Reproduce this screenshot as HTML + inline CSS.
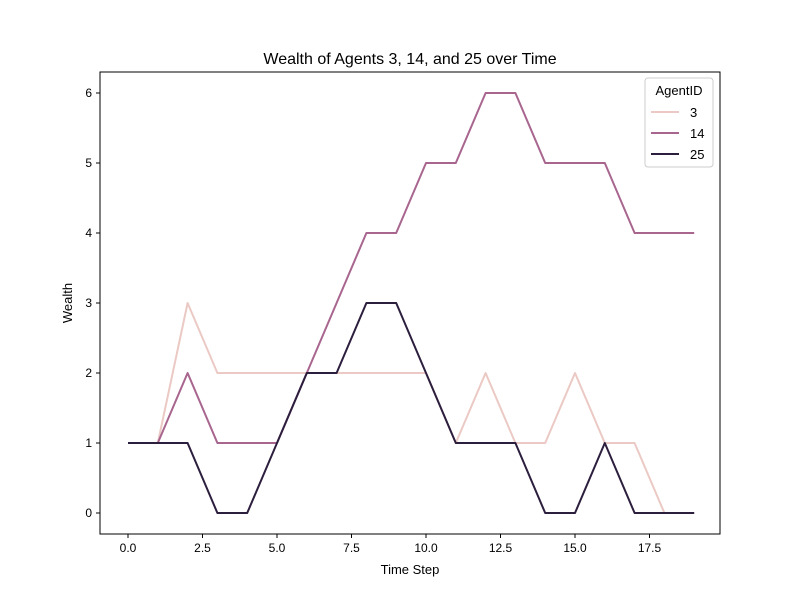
<!DOCTYPE html>
<html><head><meta charset="utf-8"><style>body{margin:0;background:#fff}svg{font-family:"Liberation Sans","DejaVu Sans",sans-serif}</style></head>
<body>
<svg id="chart" width="800" height="600" viewBox="0 0 800 600">
<rect width="800" height="600" fill="#fff"/>
<text x="410" y="64" text-anchor="middle" font-size="16">Wealth of Agents 3, 14, and 25 over Time</text>
<g id="plot"></g>
<text x="410" y="574" text-anchor="middle" font-size="13">Time Step</text>
<text transform="translate(72,303) rotate(-90)" text-anchor="middle" font-size="13">Wealth</text>
</svg>
<script>
const timeSteps=[0,1,2,3,4,5,6,7,8,9,10,11,12,13,14,15,16,17,18,19];
const agent3=[1,1,3,2,2,2,2,2,2,2,2,1,2,1,1,2,1,1,0,0];
const agent14=[1,1,2,1,1,1,2,3,4,4,5,5,6,6,5,5,5,4,4,4];
const agent25=[1,1,1,0,0,1,2,2,3,3,2,1,1,1,0,0,1,0,0,0];
const seriesNames=["3","14","25"];
const xTicks=[0,2.5,5,7.5,10,12.5,15,17.5];
const xTickLabels=["0.0","2.5","5.0","7.5","10.0","12.5","15.0","17.5"];
const yTicks=[0,1,2,3,4,5,6];
const yTickLabels=["0","1","2","3","4","5","6"];
const L=100,R=720,T=72,B=534;
const xs=v=>128+v*29.8;
const ys=v=>513-v*70;
const NS="http://www.w3.org/2000/svg";
const g=document.getElementById('plot');
function mk(t,a,p){const e=document.createElementNS(NS,t);for(const k in a)e.setAttribute(k,a[k]);(p||g).appendChild(e);return e;}
const frame=mk('rect',{x:L,y:T,width:R-L,height:B-T,fill:'none',stroke:'#000','stroke-width':1});


xTicks.forEach((v,i)=>{
 const l=mk('line',{x1:xs(v),x2:xs(v),y1:B,y2:B+4,stroke:'#000'});
 
 
 const t=mk('text',{x:xs(v),y:B+18,'text-anchor':'middle','font-size':12});
 t.textContent=xTickLabels[i];
 
 
});
yTicks.forEach((v,i)=>{
 const l=mk('line',{x1:L-4,x2:L,y1:ys(v),y2:ys(v),stroke:'#000'});
 
 
 const t=mk('text',{x:L-8,y:ys(v)+4,'text-anchor':'end','font-size':12});
 t.textContent=yTickLabels[i];
 
 
});
const colors=["#ebc9c4","#a8668f","#2c1e3d"];
[agent3,agent14,agent25].forEach((s,k)=>{
 const p=mk('polyline',{points:s.map((v,i)=>xs(timeSteps[i])+','+ys(v)).join(' '),fill:'none',stroke:colors[k],'stroke-width':2,'stroke-linejoin':'round'});
 
 
});
const lg=mk('g',{});


mk('rect',{x:645,y:78,width:68,height:89,rx:3,fill:'#fff','fill-opacity':0.8,stroke:'#ccc'},lg);
const lt=mk('text',{x:679,y:95,'text-anchor':'middle','font-size':13},lg);
lt.textContent='AgentID';


seriesNames.forEach((n,k)=>{
 const y=112+k*21;
 const e=mk('g',{},lg);
 
 
 mk('line',{x1:651,x2:679,y1:y,y2:y,stroke:colors[k],'stroke-width':2},e);
 const t=mk('text',{x:690,y:y+5,'font-size':13},e);
 t.textContent=n;
});
</script>
</body></html>
